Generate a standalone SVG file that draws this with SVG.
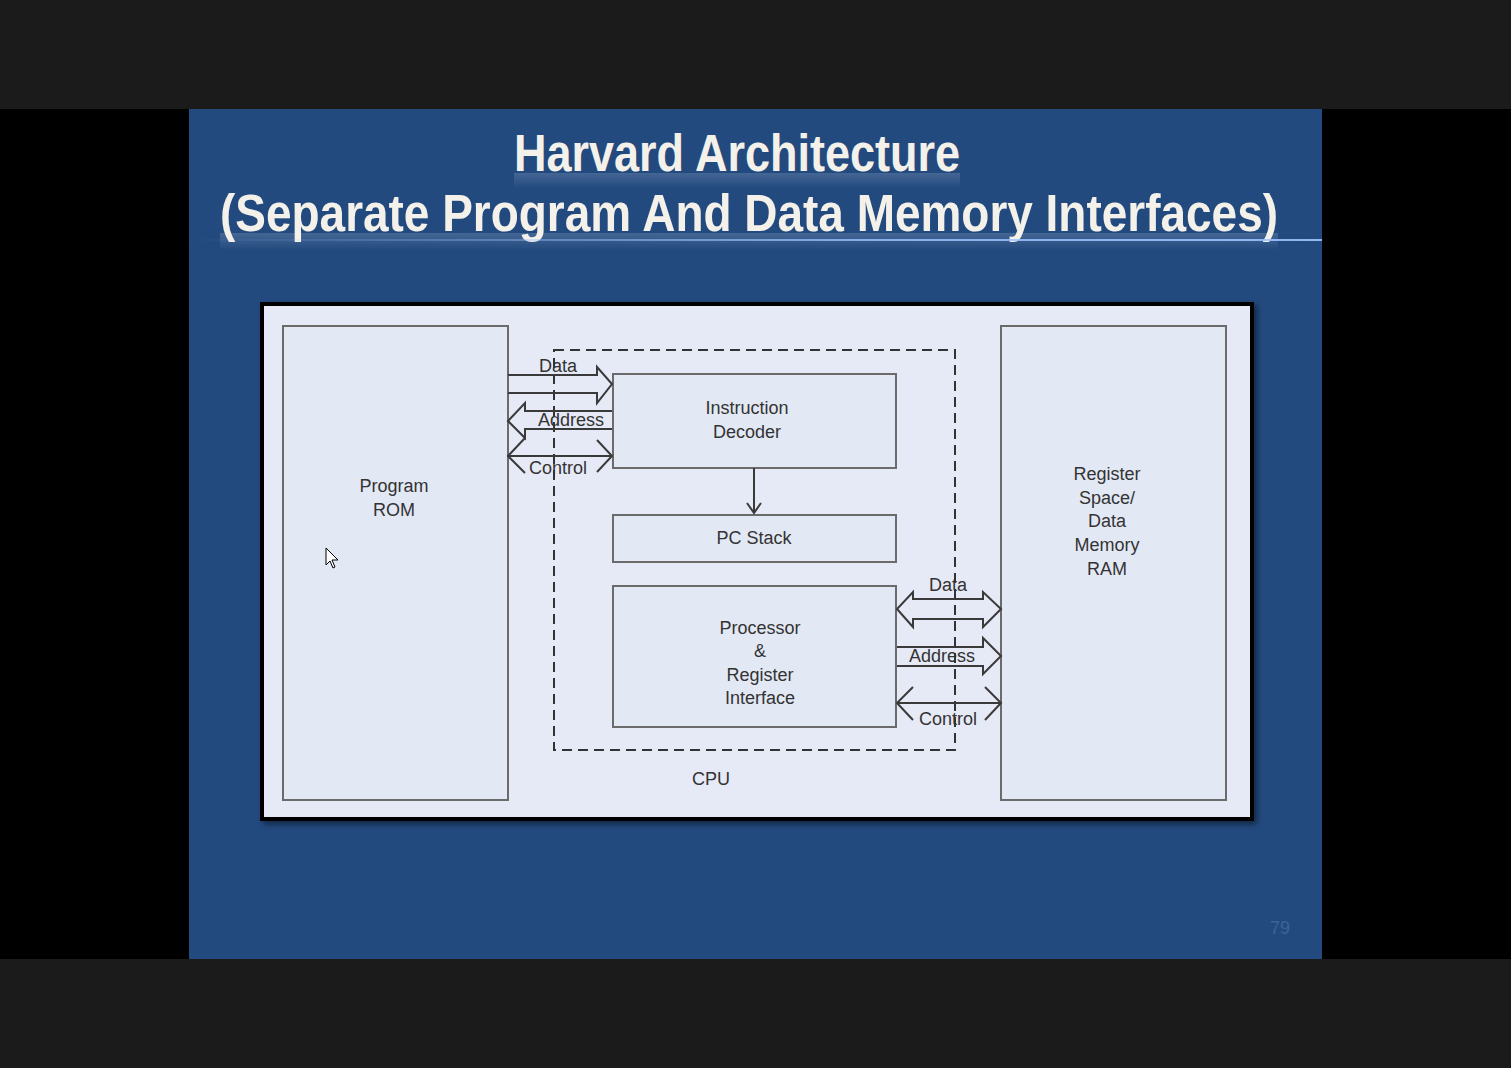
<svg xmlns="http://www.w3.org/2000/svg" width="1511" height="1068" viewBox="0 0 1511 1068">
<defs>
<style>
.box{fill:#e3e8f5;stroke:#6b6b6b;stroke-width:2}
.lbl{font-family:"Liberation Sans",Arial,sans-serif;font-size:18px;fill:#333;text-anchor:middle}
.bus{fill:none;stroke:#3a3a3a;stroke-width:2;stroke-linejoin:miter}
.title{font-family:"Liberation Sans",Arial,sans-serif;font-weight:bold;font-size:51px;fill:#f3f1ea;text-anchor:middle}
</style>
<linearGradient id="hl" x1="0" y1="0" x2="1" y2="0">
<stop offset="0" stop-color="#9ec3ff" stop-opacity="0"/>
<stop offset="0.6" stop-color="#9ec3ff" stop-opacity="0.8"/>
<stop offset="1" stop-color="#9ec3ff" stop-opacity="0.9"/>
</linearGradient>
<linearGradient id="refl" x1="0" y1="0" x2="0" y2="1">
<stop offset="0" stop-color="#c9d6ea" stop-opacity="0.2"/>
<stop offset="1" stop-color="#c9d6ea" stop-opacity="0"/>
</linearGradient>
<filter id="sh" x="-5%" y="-5%" width="110%" height="110%"><feDropShadow dx="3" dy="3" stdDeviation="3" flood-opacity="0.5"/></filter>
</defs>
<rect x="0" y="0" width="1511" height="1068" fill="#1b1b1b"/>
<rect x="0" y="109" width="1511" height="850" fill="#000"/>
<rect x="189" y="109" width="1133" height="850" fill="#234a7f"/>
<g id="title">
<rect x="514" y="173" width="446" height="15" fill="url(#refl)"/>
<rect x="220" y="233" width="1058" height="17" fill="url(#refl)"/>
<text class="title" x="737" y="171" textLength="446" lengthAdjust="spacingAndGlyphs">Harvard Architecture</text>
<text class="title" x="749" y="231" textLength="1058" lengthAdjust="spacingAndGlyphs">(Separate Program And Data Memory Interfaces)</text>
<rect x="189" y="239" width="1133" height="2" fill="url(#hl)"/>
</g>
<rect x="262" y="304" width="990" height="515" fill="#e6e9f6" stroke="#000" stroke-width="4" filter="url(#sh)"/>
<g id="program-rom"><rect class="box" x="283" y="326" width="225" height="474"/><text class="lbl" x="394" y="492">Program</text><text class="lbl" x="394" y="516">ROM</text></g>
<g id="ram"><rect class="box" x="1001" y="326" width="225" height="474"/>
<text class="lbl" x="1107" y="480">Register</text><text class="lbl" x="1107" y="504">Space/</text><text class="lbl" x="1107" y="527">Data</text><text class="lbl" x="1107" y="551">Memory</text><text class="lbl" x="1107" y="575">RAM</text></g>
<g id="cpu"><rect x="554" y="350" width="401" height="400" fill="none" stroke="#333" stroke-width="2" stroke-dasharray="10,6"/><text class="lbl" x="711" y="785">CPU</text></g>
<g id="instruction-decoder"><rect class="box" x="613" y="374" width="283" height="94" stroke="#333"/><text class="lbl" x="747" y="414">Instruction</text><text class="lbl" x="747" y="438">Decoder</text></g>
<g id="pc-stack"><rect class="box" x="613" y="515" width="283" height="47" stroke="#333"/><text class="lbl" x="754" y="544">PC Stack</text></g>
<g id="processor"><rect class="box" x="613" y="586" width="283" height="141" stroke="#333"/><text class="lbl" x="760" y="634">Processor</text><text class="lbl" x="760" y="657">&amp;</text><text class="lbl" x="760" y="681">Register</text><text class="lbl" x="760" y="704">Interface</text></g>
<g id="connectors">
<path class="bus" d="M508,375 H597 V367 L612,384 L597,403 V393 H508"/>
<path class="bus" d="M612,411 H525 V403 L508,421 L525,438 V429 H612"/>
<path class="bus" d="M508,456 H612 M525,438 L508,456 L525,473 M597,440 L612,456 L597,472"/>
<path class="bus" d="M913,599 H983 V592 L1001,609 L983,627 V619 H913 V627 L897,609 L913,592 Z"/>
<path class="bus" d="M897,647 H983 V638 L1001,656 L983,674 V666 H897"/>
<path class="bus" d="M897,703 H1001 M913,687 L897,703 L913,720 M985,687 L1001,703 L985,720"/>
<path class="bus" d="M754,468 V512 M747,503 L754,513 L761,503"/>
<text class="lbl" x="558" y="372">Data</text>
<text class="lbl" x="571" y="426">Address</text>
<text class="lbl" x="558" y="474">Control</text>
<text class="lbl" x="948" y="591">Data</text>
<text class="lbl" x="942" y="662">Address</text>
<text class="lbl" x="948" y="725">Control</text>
</g>
<path d="M326,548 V565 L330,561 L333,568 L335,567 L332,560 L338,560 Z" fill="#fff" stroke="#000" stroke-width="1"/>
<text x="1280" y="934" font-family="Liberation Sans,Arial,sans-serif" font-size="18" fill="#3d6296" text-anchor="middle">79</text>
</svg>
